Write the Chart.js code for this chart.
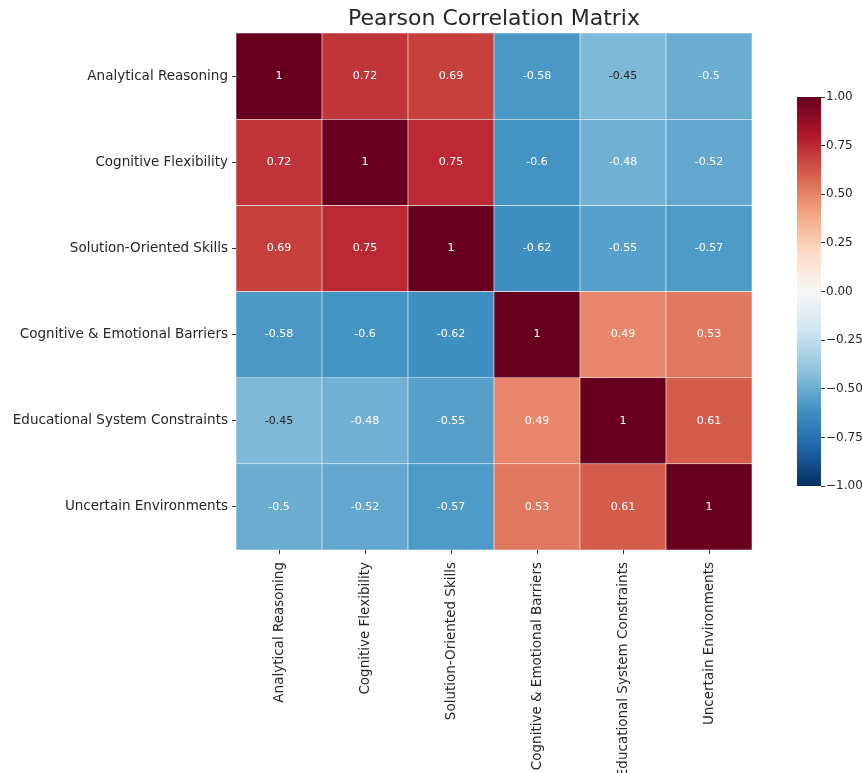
<!DOCTYPE html>
<html>
<head>
<meta charset="utf-8">
<script src="https://cdn.jsdelivr.net/npm/chart.js@4.4.1/dist/chart.umd.min.js"></script>
<style>
  html, body { margin: 0; padding: 0; background: #ffffff; }
  #wrap { position: relative; width: 862px; height: 773px; overflow: hidden; }
  #main-box { position: absolute; left: 0; top: 0; width: 862px; height: 773px; }
  #cbar-box { position: absolute; left: 780px; top: 80px; width: 82px; height: 420px; }
</style>
</head>
<body>
<div id="wrap">
  <div id="main-box"><canvas id="heatChart"></canvas></div>
  <div id="cbar-box"><canvas id="cbarChart"></canvas></div>
</div>
<script>
// Labels (rows top to bottom, columns left to right)
const variables = [
    "Analytical Reasoning",
    "Cognitive Flexibility",
    "Solution-Oriented Skills",
    "Cognitive & Emotional Barriers",
    "Educational System Constraints",
    "Uncertain Environments"
];

// Correlation rows
const rowAnalytical = [1, 0.72, 0.69, -0.58, -0.45, -0.5];
const rowFlexibility = [0.72, 1, 0.75, -0.6, -0.48, -0.52];
const rowSolution = [0.69, 0.75, 1, -0.62, -0.55, -0.57];
const rowBarriers = [-0.58, -0.6, -0.62, 1, 0.49, 0.53];
const rowConstraints = [-0.45, -0.48, -0.55, 0.49, 1, 0.61];
const rowUncertain = [-0.5, -0.52, -0.57, 0.53, 0.61, 1];
const corrRows = [rowAnalytical, rowFlexibility, rowSolution, rowBarriers, rowConstraints, rowUncertain];

// Colorbar ticks
const cbarTicks = [-1, -0.75, -0.5, -0.25, 0, 0.25, 0.5, 0.75, 1];

// RdBu_r colormap stops (-1 -> 1)
const rdbuR = ['#053061', '#2166ac', '#4393c3', '#92c5de', '#d1e5f0', '#f7f7f7',
               '#fddbc7', '#f4a582', '#d6604d', '#b2182b', '#67001f'];

const FONT = "'DejaVu Sans', sans-serif";
const TEXT = '#262626';

function hexToRgb(h) {
    return [parseInt(h.substr(1, 2), 16), parseInt(h.substr(3, 2), 16), parseInt(h.substr(5, 2), 16)];
}

function corrRgb(v) {
    const t = Math.max(0, Math.min(1, (v + 1) / 2)) * (rdbuR.length - 1);
    const i = Math.min(Math.floor(t), rdbuR.length - 2);
    const f = t - i;
    const a = hexToRgb(rdbuR[i]);
    const b = hexToRgb(rdbuR[i + 1]);
    return a.map((c, k) => Math.round(c + (b[k] - c) * f));
}

function corrColor(v) {
    const c = corrRgb(v);
    return `rgb(${c[0]}, ${c[1]}, ${c[2]})`;
}

// same rule seaborn uses to pick annotation colour
function annotColor(v) {
    const lin = corrRgb(v).map(c => {
        c = c / 255;
        return c <= 0.03928 ? c / 12.92 : Math.pow((c + 0.055) / 1.055, 2.4);
    });
    const lum = 0.2126 * lin[0] + 0.7152 * lin[1] + 0.0722 * lin[2];
    return lum > 0.408 ? TEXT : '#ffffff';
}

// each row is one stacked dataset, one unit tall per cell
const datasets = corrRows.map((row, r) => ({
    label: variables[r],
    data: row.map(() => 1),
    corr: row,
    backgroundColor: row.map(corrColor),
    borderColor: 'rgba(255, 255, 255, 0.75)',
    borderWidth: 0.6,
    borderSkipped: false,
    barPercentage: 1,
    categoryPercentage: 1
}));

// Annotation plugin: writes each value in the middle of its cell
const cellLabels = {
    id: 'cellLabels',
    afterDatasetsDraw(chart) {
        const ctx = chart.ctx;
        ctx.save();
        ctx.font = `11px ${FONT}`;
        ctx.textAlign = 'center';
        ctx.textBaseline = 'middle';
        chart.data.datasets.forEach((ds, d) => {
            chart.getDatasetMeta(d).data.forEach((bar, i) => {
                const v = ds.corr[i];
                ctx.fillStyle = annotColor(v);
                ctx.fillText(String(v), bar.x, (bar.y + bar.base) / 2);
            });
        });
        ctx.restore();
    }
};

// Title centred over the cells, like matplotlib's axes title
const axesTitle = {
    id: 'axesTitle',
    afterDraw(chart) {
        const ctx = chart.ctx;
        const area = chart.chartArea;
        ctx.save();
        ctx.font = `22px ${FONT}`;
        ctx.fillStyle = TEXT;
        ctx.textAlign = 'center';
        ctx.textBaseline = 'alphabetic';
        ctx.fillText('Pearson Correlation Matrix', (area.left + area.right) / 2, area.top - 8);
        ctx.restore();
    }
};

const heatChart = new Chart(document.getElementById('heatChart').getContext('2d'), {
    type: 'bar',
    data: {
        labels: variables,
        datasets: datasets
    },
    options: {
        responsive: true,
        maintainAspectRatio: false,
        animation: false,
        layout: {
            padding: { top: 33, right: 110, bottom: 0, left: 0 }
        },
        plugins: {
            legend: { display: false },
            tooltip: { enabled: false }
        },
        scales: {
            x: {
                stacked: true,
                grid: { display: true, drawOnChartArea: false, offset: false, tickLength: 4, color: '#333333', lineWidth: 1 },
                border: { display: false },
                ticks: {
                    autoSkip: false,
                    minRotation: 90,
                    maxRotation: 90,
                    padding: 8,
                    color: TEXT,
                    font: { family: FONT, size: 13.5 }
                },
                afterFit(axis) { axis.height = 223; }
            },
            y: {
                stacked: true,
                reverse: true,
                min: 0,
                max: variables.length,
                grid: { display: true, drawOnChartArea: false, tickLength: 4, color: '#333333', lineWidth: 1 },
                border: { display: false },
                afterBuildTicks(axis) {
                    axis.ticks = variables.map((_, i) => ({ value: i + 0.5 }));
                },
                ticks: {
                    padding: 4,
                    color: TEXT,
                    font: { family: FONT, size: 13.5 },
                    callback: (value) => variables[Math.floor(value)]
                },
                afterFit(axis) { axis.width = 236; }
            }
        }
    },
    plugins: [cellLabels, axesTitle]
});

// Colorbar: one floating bar from -1 to 1 with the colormap as a gradient
function cbarGradient(context) {
    const chart = context.chart;
    const area = chart.chartArea;
    if (!area) return rdbuR[5];
    const yScale = chart.scales.y;
    const g = chart.ctx.createLinearGradient(0, yScale.getPixelForValue(-1), 0, yScale.getPixelForValue(1));
    rdbuR.forEach((c, i) => g.addColorStop(i / (rdbuR.length - 1), c));
    return g;
}

const cbarChart = new Chart(document.getElementById('cbarChart').getContext('2d'), {
    type: 'bar',
    data: {
        labels: [''],
        datasets: [{
            data: [[-1, 1]],
            backgroundColor: cbarGradient,
            borderWidth: 0,
            barPercentage: 1,
            categoryPercentage: 1
        }]
    },
    options: {
        responsive: true,
        maintainAspectRatio: false,
        animation: false,
        layout: {
            padding: { top: 17, right: 0, bottom: 14, left: 17 }
        },
        plugins: {
            legend: { display: false },
            tooltip: { enabled: false }
        },
        scales: {
            x: { display: false },
            y: {
                position: 'right',
                min: -1,
                max: 1,
                grid: { display: true, drawOnChartArea: false, tickLength: 4, color: '#333333', lineWidth: 1 },
                border: { display: false },
                afterBuildTicks(axis) {
                    axis.ticks = cbarTicks.map(v => ({ value: v }));
                },
                ticks: {
                    padding: 1,
                    color: TEXT,
                    font: { family: FONT, size: 12 },
                    callback: (value) => value.toFixed(2).replace('-', '\u2212')
                },
                afterFit(axis) { axis.width = 41; }
            }
        }
    }
});
</script>
</body>
</html>
